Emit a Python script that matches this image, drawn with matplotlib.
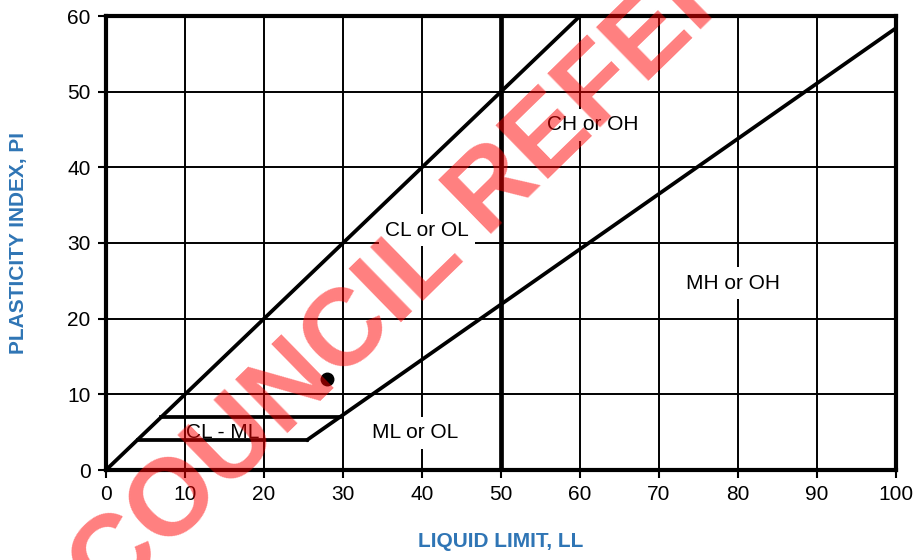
import matplotlib
matplotlib.use("Agg")
import matplotlib.pyplot as plt

plt.rcParams['font.family'] = ['Liberation Sans', 'DejaVu Sans']

# plasticity chart data
ll_ticks = [0, 10, 20, 30, 40, 50, 60, 70, 80, 90, 100]
pi_ticks = [0, 10, 20, 30, 40, 50, 60]

u_line_ll = [0, 60]
u_line_pi = [0, 60]
a_line_ll = [25.5, 100]
a_line_pi = [4, 58.4]
clml_low_ll = [4, 25.5]
clml_low_pi = [4, 4]
clml_high_ll = [7, 29.6]
clml_high_pi = [7, 7]
ll_split = 50

sample_ll = [28]
sample_pi = [12]

zone_names = ["CH or OH", "CL or OL", "MH or OH", "ML or OL", "CL - ML"]
zone_ll = [61.6, 40.6, 79.4, 39.1, 14.8]
zone_pi = [45.6, 31.7, 24.7, 4.9, 5.0]

blue = '#2F75B5'

fig = plt.figure(figsize=(9.14, 5.6), dpi=100)
ax = fig.add_axes([106 / 914, 90 / 560, 790 / 914, 454 / 560])

ax.set_xlim(0, 100)
ax.set_ylim(0, 60)
ax.set_xticks(ll_ticks)
ax.set_yticks(pi_ticks)
ax.grid(True, color='black', lw=1.4, zorder=1)
ax.set_axisbelow(True)

for s in ax.spines.values():
    s.set_linewidth(3)
ax.tick_params(direction='out', length=6, width=1.5, labelsize=15, pad=5)

# boundaries
ax.plot(u_line_ll, u_line_pi, color='black', lw=2.7, zorder=3)
ax.plot(a_line_ll, a_line_pi, color='black', lw=2.7, zorder=3)
ax.plot(clml_low_ll + [a_line_ll[0]], clml_low_pi + [a_line_pi[0]], color='black', lw=2.7, zorder=3)
ax.plot(clml_high_ll, clml_high_pi, color='black', lw=2.7, zorder=3)
ax.axvline(ll_split, color='black', lw=3.4, zorder=3)

ax.plot(sample_ll, sample_pi, 'o', color='black', ms=9, zorder=4)

for name, x, y in zip(zone_names, zone_ll, zone_pi):
    if name == "CL - ML":
        ax.text(x, y, name, fontsize=15, ha='center', va='center', zorder=5)
    else:
        ax.text(x, y, name, fontsize=15, ha='center', va='center', zorder=5,
                bbox=dict(boxstyle='square,pad=0.3', fc='white', ec='none'))

ax.set_xlabel("LIQUID LIMIT, LL", fontsize=15, fontweight='bold', color=blue, labelpad=20)
ax.set_ylabel("PLASTICITY INDEX, PI", fontsize=15, fontweight='bold', color=blue, labelpad=28)

# watermark
fig.text(540 / 914, 1 - 187 / 560, "COUNCIL REFERENCE", fontsize=79, fontweight='bold',
         color='red', alpha=0.5, rotation=44.3, rotation_mode='anchor',
         ha='center', va='baseline', zorder=10)

fig.savefig("out.png", dpi=100)
